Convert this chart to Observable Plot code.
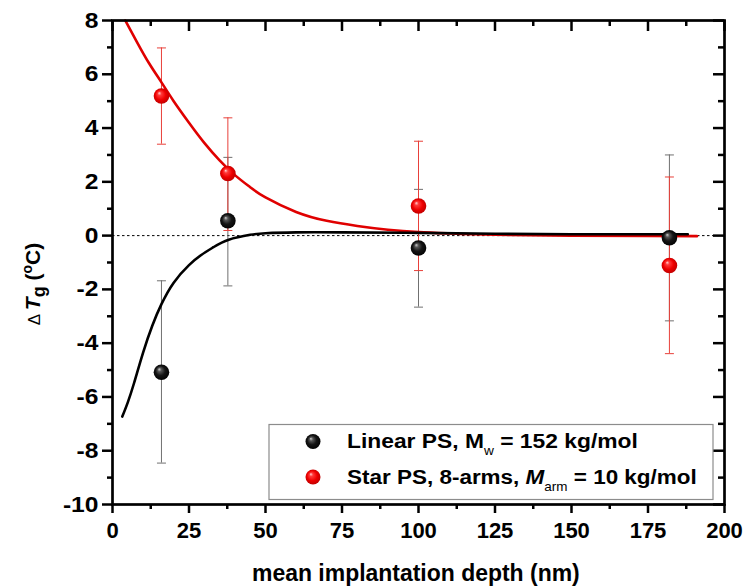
<!DOCTYPE html>
<html><head><meta charset="utf-8">
<script src="https://cdn.jsdelivr.net/npm/d3@7"></script>
<script src="https://cdn.jsdelivr.net/npm/@observablehq/plot@0.6"></script>
<style>body{margin:0;background:#fff}#chart svg{display:block}</style>
</head><body><div id="chart"></div>
<script>
// ---- data ----
const depth = [16, 37.7, 100, 182];                 // mean implantation depth (nm)
const linearDTg = [-5.08, 0.55, -0.46, -0.08];
const linearLo  = [-8.46, -1.87, -2.66, -3.17];
const linearHi  = [-1.68, 2.91, 1.72, 3.00];
const starDTg   = [5.19, 2.31, 1.10, -1.11];
const starLo    = [3.40, 0.19, -1.30, -4.39];
const starHi    = [6.98, 4.38, 3.51, 2.18];

// fitted curves
const starFitX = [4.2, 8, 12, 16, 20, 25, 30, 35, 40, 45, 50, 60, 70, 80, 90, 100, 110, 125, 150, 175, 191];
const starFitY = [8.0, 7.2, 6.4, 5.7, 5.0, 4.2, 3.45, 2.8, 2.25, 1.8, 1.42, 0.88, 0.55, 0.36, 0.22, 0.13, 0.08, 0.03, 0.0, -0.01, -0.02];
const linFitX  = [3.2, 5, 7, 10, 13, 16, 20, 25, 29, 33, 38, 45, 50, 60, 75, 100, 125, 150, 188];
const linFitY  = [-6.73, -6.2, -5.5, -4.35, -3.35, -2.55, -1.75, -1.1, -0.72, -0.43, -0.15, 0.03, 0.09, 0.12, 0.12, 0.1, 0.07, 0.05, 0.05];

// axes
const xTicks = [0, 25, 50, 75, 100, 125, 150, 175, 200];
const xMinor = [12.5, 37.5, 62.5, 87.5, 112.5, 137.5, 162.5, 187.5];
const yTicks = [-10, -8, -6, -4, -2, 0, 2, 4, 6, 8];
const yMinor = [-9, -7, -5, -3, -1, 1, 3, 5, 7];

const xLabel = "mean implantation depth (nm)";
const legendLinear = ["Linear PS, M", "w", " = 152 kg/mol"];
const legendStar = ["Star PS, 8-arms, ", "M", "arm", " = 10 kg/mol"];

// ---- build ----
const W = 749, H = 587, mL = 112, mR = 25, mT = 20, mB = 83;
const plotW = W - mL - mR, plotH = H - mT - mB;

const rowsOf = (v, lo, hi) => depth.map((d, i) => ({depth: d, dTg: v[i], lo: lo[i], hi: hi[i]}));
const linRows = rowsOf(linearDTg, linearLo, linearHi);
const starRows = rowsOf(starDTg, starLo, starHi);
const starFit = starFitX.map((x, i) => ({x, y: starFitY[i]}));
const linFit = linFitX.map((x, i) => ({x, y: linFitY[i]}));

const cap = {draw(ctx) { ctx.moveTo(-4.5, 0); ctx.lineTo(4.5, 0); }};
const errGrey = "#707070", errRed = "#e8403a";
const fmt = d => String(d);

const chart = Plot.plot({
  width: W, height: H,
  marginLeft: mL, marginRight: mR, marginTop: mT, marginBottom: mB,
  x: {domain: [0, 200], axis: null},
  y: {domain: [-10, 8], axis: null},
  style: {fontFamily: "'Liberation Sans', Arial, sans-serif", fontSize: "22px", fontWeight: "bold", background: "#fff", color: "#000", overflow: "visible"},
  marks: [
    Plot.ruleY([0], {stroke: "#000", strokeWidth: 1, strokeDasharray: "2.5,2.5"}),
    // error bars
    Plot.ruleX(linRows, {x: "depth", y1: "lo", y2: "hi", stroke: errGrey, strokeWidth: 1}),
    Plot.dot(linRows, {x: "depth", y: "lo", symbol: cap, fill: "none", stroke: errGrey, strokeWidth: 1}),
    Plot.dot(linRows, {x: "depth", y: "hi", symbol: cap, fill: "none", stroke: errGrey, strokeWidth: 1}),
    Plot.ruleX(starRows, {x: "depth", y1: "lo", y2: "hi", stroke: errRed, strokeWidth: 1}),
    Plot.dot(starRows, {x: "depth", y: "lo", symbol: cap, fill: "none", stroke: errRed, strokeWidth: 1}),
    Plot.dot(starRows, {x: "depth", y: "hi", symbol: cap, fill: "none", stroke: errRed, strokeWidth: 1}),
    // fits
    Plot.line(starFit, {x: "x", y: "y", stroke: "#e00000", strokeWidth: 2.6, curve: "natural"}),
    Plot.line(linFit, {x: "x", y: "y", stroke: "#000", strokeWidth: 2.6, curve: "natural"}),
    // points
    Plot.dot(linRows, {x: "depth", y: "dTg", r: 7.8, fill: "url(#ballBlack)", stroke: "none"}),
    Plot.dot(starRows, {x: "depth", y: "dTg", r: 7.8, fill: "url(#ballRed)", stroke: "none"}),
    // axes
    Plot.axisX(xTicks, {anchor: "bottom", tickSize: 9, tickPadding: 9, strokeWidth: 2.5, label: null, tickFormat: fmt, fontSize: 22}),
    Plot.axisX(xMinor, {anchor: "bottom", tickSize: 5, tickFormat: () => "", strokeWidth: 2.5, label: null}),
    Plot.axisY(yTicks, {anchor: "left", tickSize: 10, tickPadding: 4, strokeWidth: 2.5, label: null, tickFormat: fmt, fontSize: 22}),
    Plot.axisY(yMinor, {anchor: "left", tickSize: 5, tickFormat: () => "", strokeWidth: 2.5, label: null}),
    Plot.tickX(xTicks, {x: d => d, insetBottom: plotH - 11, strokeWidth: 2.5}),
    Plot.tickX(xMinor, {x: d => d, insetBottom: plotH - 6, strokeWidth: 2.5}),
    Plot.tickY(yTicks, {y: d => d, insetLeft: plotW - 11, strokeWidth: 2.5}),
    Plot.tickY(yMinor, {y: d => d, insetLeft: plotW - 6, strokeWidth: 2.5}),
    Plot.frame({stroke: "#000", strokeWidth: 2.7})
  ]
});
document.getElementById("chart").appendChild(chart);

const svg = d3.select(chart);
const defs = svg.insert("defs", ":first-child");
function ball(id, stops) {
  const g = defs.append("radialGradient").attr("id", id)
    .attr("cx", "50%").attr("cy", "50%").attr("r", "55%").attr("fx", "35%").attr("fy", "30%");
  stops.forEach(([o, c]) => g.append("stop").attr("offset", o).attr("stop-color", c));
}
ball("ballBlack", [["0%", "#d0d0d0"], ["22%", "#555"], ["55%", "#151515"], ["100%", "#000"]]);
ball("ballRed", [["0%", "#ffd6d6"], ["22%", "#ff3a3a"], ["60%", "#ee0000"], ["100%", "#b80000"]]);

// slightly wider y tick labels (anchored at their right end)
svg.selectAll('g[aria-label="y-axis tick label"] text').each(function() {
  const t = this.getAttribute("transform");
  if (t && t.startsWith("translate")) this.setAttribute("transform", t + " scale(1.12,1)");
});

// stretch a text horizontally so it spans a given width from its left x
function fitWidth(sel, x0, y0, target) {
  const w = sel.node().getBBox().width;
  if (w > 0) sel.attr("transform", `translate(${x0},${y0}) scale(${target / w},1) translate(${-x0},${-y0})`);
}

// y label
const yl = svg.append("text").attr("transform", "translate(40,284) rotate(-90)")
  .attr("text-anchor", "middle").attr("font-size", 21).attr("font-weight", "bold");
yl.append("tspan").attr("font-weight", "normal").attr("font-size", 17).text("\u0394 ");
yl.append("tspan").attr("font-style", "italic").text("T");
yl.append("tspan").attr("dy", 5).attr("font-size", 18).text("g");
yl.append("tspan").attr("dy", -5).text(" (");
yl.append("tspan").attr("dy", -8).attr("font-size", 14).text("o");
yl.append("tspan").attr("dy", 8).text("C)");

// x label
const xl = svg.append("text").attr("x", 252).attr("y", 581).attr("text-anchor", "start")
  .attr("font-size", 23).attr("font-weight", "bold").text(xLabel);
fitWidth(xl, 252, 581, 328);

// legend
const lg = svg.append("g").attr("text-anchor", "start");
lg.append("rect").attr("x", 269).attr("y", 424.5).attr("width", 444).attr("height", 75)
  .attr("fill", "#fff").attr("stroke", "#8c8c8c").attr("stroke-width", 1.2);
lg.append("circle").attr("cx", 313).attr("cy", 441.5).attr("r", 7.5).attr("fill", "url(#ballBlack)");
lg.append("circle").attr("cx", 313).attr("cy", 477).attr("r", 7.5).attr("fill", "url(#ballRed)");
const t1 = lg.append("text").attr("x", 347).attr("y", 448.5).attr("font-size", 20).attr("font-weight", "bold").attr("text-anchor", "start");
t1.append("tspan").text(legendLinear[0]);
t1.append("tspan").attr("dy", 7).attr("font-size", 12).attr("font-weight", "normal").text(legendLinear[1]);
t1.append("tspan").attr("dy", -7).text(legendLinear[2]);
fitWidth(t1, 347, 448.5, 291);
const t2 = lg.append("text").attr("x", 347).attr("y", 484).attr("font-size", 20).attr("font-weight", "bold").attr("text-anchor", "start");
t2.append("tspan").text(legendStar[0]);
t2.append("tspan").attr("font-style", "italic").text(legendStar[1]);
t2.append("tspan").attr("dy", 7).attr("font-size", 12).attr("font-weight", "normal").text(legendStar[2]);
t2.append("tspan").attr("dy", -7).text(legendStar[3]);
fitWidth(t2, 347, 484, 350);
</script>
</body></html>
